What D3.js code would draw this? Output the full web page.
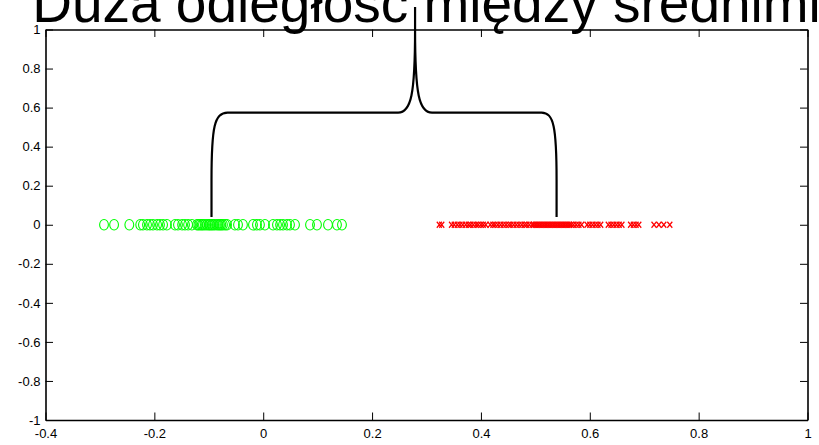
<!DOCTYPE html>
<html>
<head>
<meta charset="utf-8">
<script src="https://cdn.jsdelivr.net/npm/d3@7"></script>
<style>
  html, body { margin: 0; padding: 0; background: #fff; }
  svg { display: block; }
  .tick text { font-family: "Liberation Sans", Arial, sans-serif; font-size: 13px; fill: #000; }
</style>
</head>
<body>
<svg id="chart" width="819" height="445"></svg>
<script>
// Class A (green circles) and class B (red crosses), all lying on y = 0
const greenX = [-0.2925, -0.274, -0.246, -0.226, -0.221, -0.2135, -0.208, -0.2025, -0.195,
  -0.1897, -0.184, -0.177, -0.162, -0.1566, -0.149, -0.1437, -0.138, -0.131, -0.1217,
  -0.119, -0.116, -0.113, -0.1106, -0.107, -0.1033, -0.100, -0.0978, -0.095, -0.0923,
  -0.089, -0.085, -0.082, -0.0794, -0.077, -0.074, -0.070, -0.0665, -0.052, -0.0463,
  -0.0372, -0.0188, -0.0115, -0.006, 0.0032, 0.018, 0.0253, 0.031, 0.0364, 0.0437,
  0.0492, 0.0584, 0.086, 0.0988, 0.119, 0.1355, 0.1447];
const redX = [0.3235, 0.328, 0.346, 0.351, 0.3566, 0.3615, 0.3665, 0.372, 0.377, 0.381,
  0.386, 0.391, 0.395, 0.400, 0.4043, 0.409, 0.417, 0.422, 0.426, 0.431, 0.436, 0.441,
  0.446, 0.451, 0.455, 0.460, 0.465, 0.470, 0.475, 0.480, 0.484, 0.489, 0.494, 0.497,
  0.500, 0.503, 0.506, 0.509, 0.512, 0.515, 0.518, 0.521, 0.524, 0.527, 0.530, 0.533,
  0.536, 0.539, 0.542, 0.545, 0.548, 0.551, 0.554, 0.557, 0.560, 0.563, 0.566, 0.570,
  0.575, 0.580, 0.585, 0.595, 0.600, 0.605, 0.610, 0.615, 0.620, 0.634, 0.639, 0.644,
  0.649, 0.654, 0.659, 0.675, 0.680, 0.685, 0.690, 0.718, 0.727, 0.736, 0.747];

const xTicks = [-0.4, -0.2, 0, 0.2, 0.4, 0.6, 0.8, 1];
const yTicks = [-1, -0.8, -0.6, -0.4, -0.2, 0, 0.2, 0.4, 0.6, 0.8, 1];

const titleText = "Duża odległość między średnimi";

// Brace joining the two class means
const braceLegX = [-0.095, 0.539];   // left and right feet (class means)
const braceTipX = [0.279];
const braceLevels = [0.04, 0.574, 1.115]; // foot, arm, tip top

const svg = d3.select("#chart");
const plot = { left: 45.5, right: 807.5, top: 29.5, bottom: 420 };

const x = d3.scaleLinear().domain([-0.4, 1]).range([plot.left, plot.right]);
const y = d3.scaleLinear().domain([-1, 1]).range([plot.bottom, plot.top]);

const fmt = d => String(+d.toFixed(1));
const tickLen = 7.5;

// Axes: labelled bottom/left, bare top/right, ticks pointing inward
const gB = svg.append("g").attr("transform", `translate(0,${plot.bottom})`)
  .call(d3.axisBottom(x).tickValues(xTicks).tickFormat(fmt).tickSizeInner(-tickLen).tickSizeOuter(0).tickPadding(9));
const gL = svg.append("g").attr("transform", `translate(${plot.left},0)`)
  .call(d3.axisLeft(y).tickValues(yTicks).tickFormat(fmt).tickSizeInner(-tickLen).tickSizeOuter(0).tickPadding(5));
const gT = svg.append("g").attr("transform", `translate(0,${plot.top})`)
  .call(d3.axisTop(x).tickValues(xTicks).tickFormat("").tickSizeInner(-tickLen).tickSizeOuter(0));
const gR = svg.append("g").attr("transform", `translate(${plot.right},0)`)
  .call(d3.axisRight(y).tickValues(yTicks).tickFormat("").tickSizeInner(-tickLen).tickSizeOuter(0));

[gB, gL, gT, gR].forEach(g => {
  g.select(".domain").attr("stroke", "#000").attr("stroke-width", 1.6);
  g.selectAll(".tick line").attr("stroke", "#000").attr("stroke-width", 1);
});

// Green circles
svg.append("g").selectAll("ellipse").data(greenX).join("ellipse")
  .attr("cx", d => x(d)).attr("cy", y(0))
  .attr("rx", 4.4).attr("ry", 5.3)
  .attr("fill", "none").attr("stroke", "#00ff00").attr("stroke-width", 1.1);

// Red crosses
const cr = 2.5;
svg.append("g").selectAll("path").data(redX).join("path")
  .attr("d", d => {
    const cx = x(d), cy = y(0);
    return `M${cx - cr},${cy - cr - 0.5}L${cx + cr},${cy + cr + 0.5}M${cx - cr},${cy + cr + 0.5}L${cx + cr},${cy - cr - 0.5}`;
  })
  .attr("fill", "none").attr("stroke", "#ff0000").attr("stroke-width", 1.2);

// Curly brace
(function drawBrace() {
  const [lx, rx] = braceLegX.map(x);
  const tx = x(braceTipX[0]);
  const [fy, ay, ty] = braceLevels.map(y);
  const bend = y(0.229);          // where the legs start to curve
  const cw = 16;                  // corner width
  const cusp = 17;                // half-width of the central cusp
  const neck = y(1.0);            // where the cusp becomes a straight spike
  const p = d3.path();
  p.moveTo(lx, fy);
  p.lineTo(lx, bend);
  p.bezierCurveTo(lx, ay + (bend - ay) * 0.2, lx + 3, ay, lx + cw, ay);
  p.lineTo(tx - cusp, ay);
  p.bezierCurveTo(tx - 4, ay, tx, ay - 18, tx, neck);
  p.lineTo(tx, ty);
  p.moveTo(tx, neck);
  p.bezierCurveTo(tx, ay - 18, tx + 4, ay, tx + cusp, ay);
  p.lineTo(rx - cw + 1, ay);
  p.bezierCurveTo(rx - 3, ay, rx, ay + (bend - ay) * 0.2, rx, bend);
  p.lineTo(rx, fy);
  svg.append("path").attr("d", p.toString())
    .attr("fill", "none").attr("stroke", "#000").attr("stroke-width", 2.2)
    .attr("stroke-linejoin", "round");
})();

// Title
svg.append("text")
  .attr("x", (plot.left + plot.right) / 2).attr("y", 22)
  .attr("text-anchor", "middle")
  .attr("font-family", "Liberation Sans, Arial, sans-serif")
  .attr("font-size", 55)
  .attr("fill", "#000")
  .text(titleText);
</script>
</body>
</html>
